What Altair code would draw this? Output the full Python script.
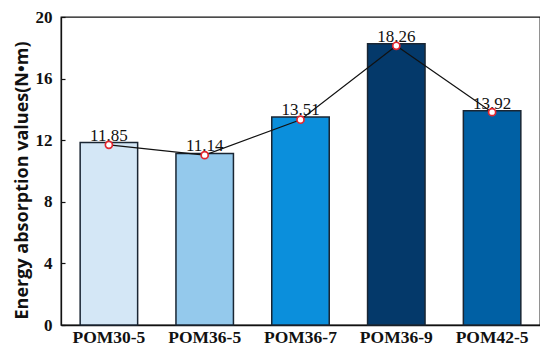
import altair as alt
import pandas as pd

samples = ["POM30-5", "POM36-5", "POM36-7", "POM36-9", "POM42-5"]
values = [11.85, 11.14, 13.51, 18.26, 13.92]
line_values = [11.70, 11.03, 13.33, 18.13, 13.82]
labels = ["11.85", "11.14", "13.51", "18.26", "13.92"]
colors = ["#d4e7f6", "#94c9ec", "#0b8fdc", "#04396a", "#0060a4"]
y_ticks = [0, 4, 8, 12, 16, 20]
y_minor = [0, 2, 4, 6, 8, 10, 12, 14, 16, 18, 20]

SERIF = "'Liberation Serif', 'Times New Roman', Times, serif"
SANS = "'Open Sans', 'Noto Sans', sans-serif"

df = pd.DataFrame({"sample": samples, "value": values, "line": line_values, "label": labels})

xscale = alt.Scale(domain=samples, paddingInner=0.4, paddingOuter=0.2)
yscale = alt.Scale(domain=[0, 20], nice=False)

x_enc = alt.X("sample:N", scale=xscale, sort=samples,
              axis=alt.Axis(title=None, labelAngle=0, labelFont=SERIF,
                            labelFontWeight="bold", labelFontSize=17.5, labelColor="#111",
                            tickSize=0, labelPadding=3, domainColor="#111", domainWidth=1.3))

bars = alt.Chart(df).mark_bar(stroke="#1a2633", strokeWidth=1.5).encode(
    x=x_enc,
    y=alt.Y("value:Q", scale=yscale,
            axis=alt.Axis(title="Energy absorption values(N•m)", values=y_ticks,
                          titleFont=SANS, titleFontWeight="bold", titleFontSize=18,
                          titleColor="#111", titlePadding=4, titleY=163,
                          labelFont=SERIF, labelFontWeight="bold",
                          labelFontSize=17, labelColor="#111", labelPadding=9,
                          tickSize=0, grid=False, domainColor="#111", domainWidth=1.3)),
    color=alt.Color("sample:N", scale=alt.Scale(domain=samples, range=colors), legend=None),
)

text = alt.Chart(df).mark_text(font=SERIF, fontSize=17, baseline="alphabetic",
                               dy=-2, color="#111").encode(
    x=alt.X("sample:N", scale=xscale, sort=samples),
    y=alt.Y("value:Q", scale=yscale),
    text="label:N",
)

line = alt.Chart(df).mark_line(color="#111", strokeWidth=1.2).encode(
    x=alt.X("sample:N", scale=xscale, sort=samples),
    y=alt.Y("line:Q", scale=yscale,
            axis=alt.Axis(orient="left", offset=-4, values=y_minor, labels=False, title=None,
                          domain=False, grid=False, tickSize=4, tickColor="#111", tickWidth=1.2)),
)

points = alt.Chart(df).mark_point(filled=True, fill="white", stroke="#e3262e",
                                  strokeWidth=1.7, size=50, opacity=1).encode(
    x=alt.X("sample:N", scale=xscale, sort=samples),
    y=alt.Y("line:Q", scale=yscale),
)

left = alt.layer(bars, text)
right = alt.layer(line, points)

chart = alt.layer(left, right).resolve_scale(y="independent").properties(
    width=479, height=308,
    autosize=alt.AutoSizeParams(type="none"),
    padding={"left": 53, "top": 9, "right": 0, "bottom": 21},
).configure_view(stroke="#111", strokeWidth=1.3)

chart.save("out.html", embed_options={"renderer": "svg", "actions": False})
